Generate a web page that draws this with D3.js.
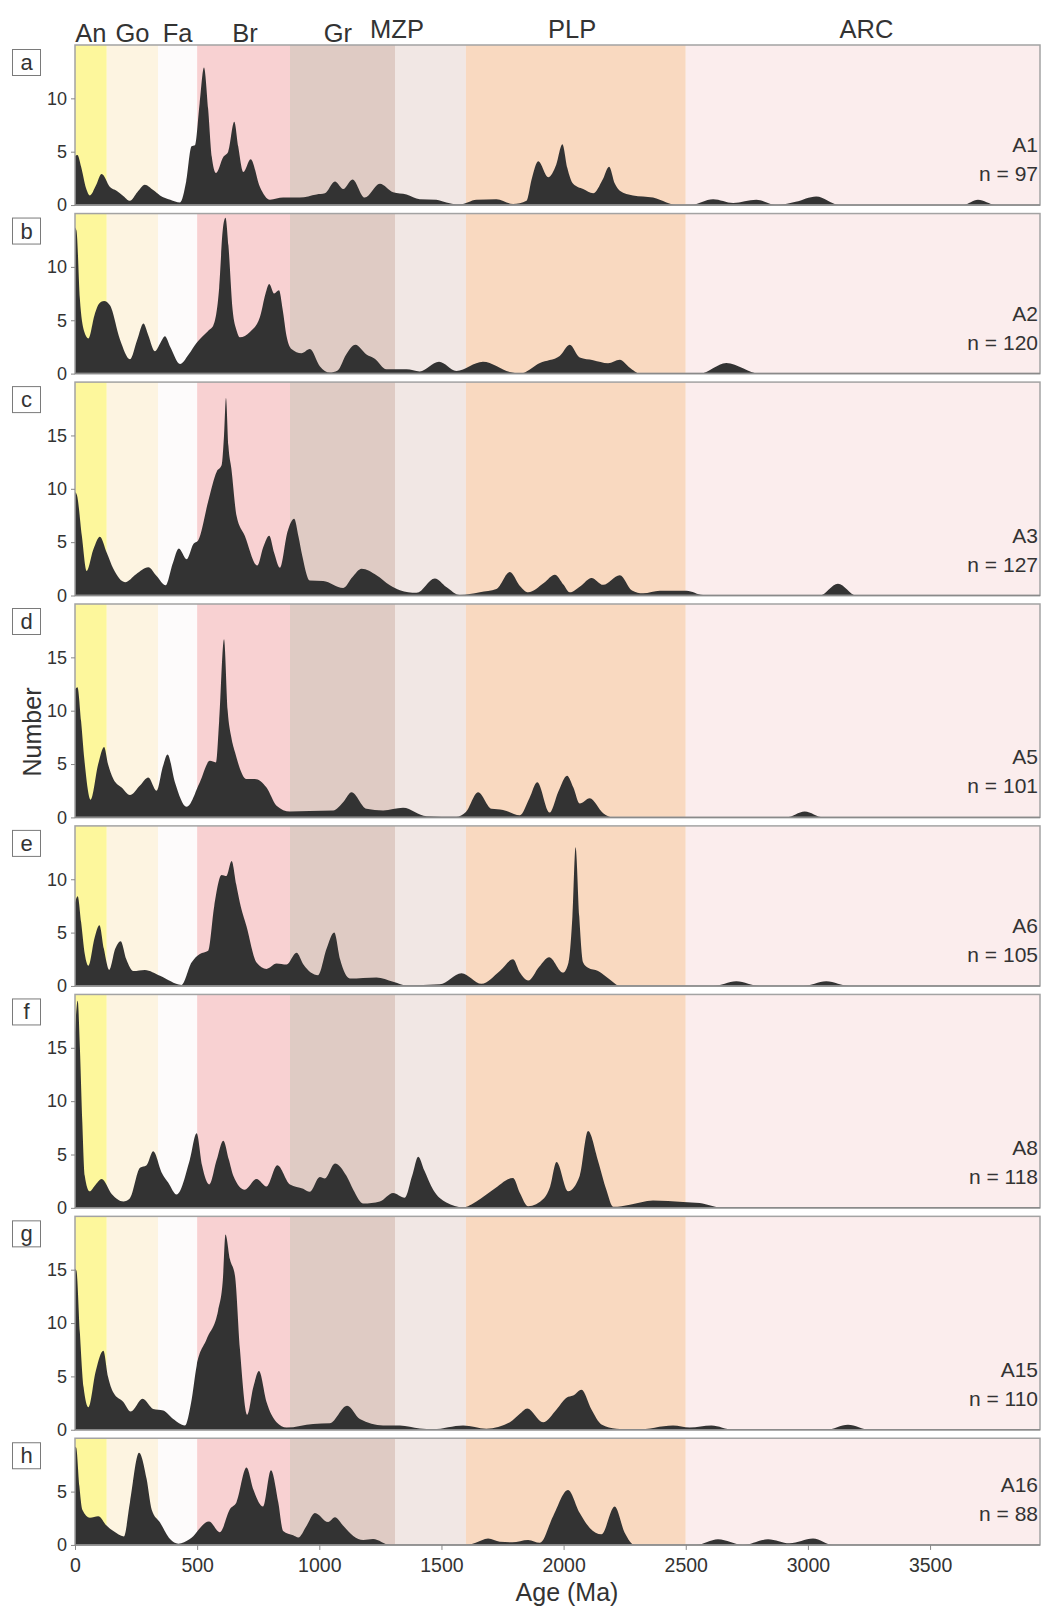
<!DOCTYPE html>
<html>
<head>
<meta charset="utf-8">
<script src="https://cdn.jsdelivr.net/npm/d3@7"></script>
<style>
  body { margin: 0; background: #fff; }
  svg { display: block; }
  text { font-family: "Liberation Sans", Arial, Helvetica, sans-serif; fill: #333; }
</style>
</head>
<body>
<svg id="chart" width="1041" height="1606"></svg>
<script>
// Detrital zircon age spectra: [age (Ma), number]
const A1 = [[0,4.6],[10,4.7],[25,3.6],[45,1.6],[61,0.9],[85,1.8],[109,2.9],[143,1.7],[170,1.35],[195,0.9],[225,0.4],[255,1.2],[286,1.9],[320,1.4],[348,0.9],[390,0.5],[430,0.25],[455,2.2],[477,5.5],[491,5.6],[510,9.5],[528,12.9],[545,9],[560,4.5],[577,3.0],[607,4.5],[627,5.0],[652,7.8],[668,5.5],[689,3.1],[719,4.3],[757,1.7],[798,0.5],[852,0.7],[920,0.7],[989,1.0],[1023,1.1],[1064,2.2],[1098,1.5],[1136,2.4],[1186,0.7],[1248,2.0],[1302,1.2],[1357,1.0],[1411,0.55],[1479,0.5],[1520,0.25],[1575,0.05],[1643,0.5],[1725,0.55],[1793,0.1],[1848,0.4],[1870,2.5],[1896,4.1],[1937,2.6],[1970,3.8],[1995,5.7],[2015,3.5],[2039,2.0],[2080,1.5],[2121,1.1],[2160,2.4],[2186,3.6],[2210,2.0],[2230,1.35],[2284,0.9],[2366,0.7],[2421,0.25],[2462,0],[2516,0],[2612,0.55],[2694,0.2],[2789,0.5],[2871,0],[2950,0.3],[3034,0.8],[3130,0],[3634,0],[3696,0.5],[3771,0],[3950,0]];
const A2 = [[0,13.7],[6,13.4],[20,7.0],[37,4.0],[55,3.3],[80,5.5],[100,6.6],[119,6.8],[143,6.4],[184,3.2],[225,1.35],[255,3.2],[280,4.7],[300,3.6],[327,2.1],[350,2.9],[368,3.5],[390,2.5],[430,0.9],[465,1.8],[498,2.9],[545,4.0],[566,4.5],[590,8.0],[605,13.5],[616,14.6],[628,12],[645,6],[662,4.0],[675,3.4],[716,3.9],[757,5.3],[780,7.5],[795,8.4],[815,7.5],[835,7.8],[850,6.0],[866,3.5],[886,2.3],[927,1.9],[961,2.3],[1002,0.7],[1043,0.1],[1075,0.3],[1110,1.8],[1148,2.7],[1193,1.8],[1227,1.4],[1275,0.4],[1357,0.4],[1411,0.2],[1490,1.1],[1561,0.25],[1670,1.1],[1780,0.15],[1821,0],[1903,1.0],[1984,1.65],[2025,2.7],[2066,1.5],[2121,1.25],[2182,0.97],[2230,1.3],[2271,0.55],[2312,0],[2557,0],[2666,1.0],[2803,0],[3950,0]];
const A3 = [[0,9.7],[8,9.4],[28,5.6],[48,2.3],[75,4.3],[102,5.5],[130,4.0],[157,2.5],[205,1.25],[250,2.0],[300,2.65],[335,1.8],[371,0.95],[400,3.0],[425,4.4],[457,3.4],[484,4.8],[505,5.2],[545,8.8],[580,11.6],[600,12.2],[610,15],[618,18.5],[628,14],[640,11.9],[661,7.5],[695,5.6],[746,2.8],[770,4.5],[795,5.6],[815,4.0],[839,2.6],[870,6.0],[897,7.2],[915,5.5],[930,3.75],[961,1.4],[1016,1.35],[1098,0.7],[1135,1.7],[1173,2.5],[1234,1.9],[1289,0.95],[1330,0.5],[1398,0.25],[1473,1.6],[1520,0.8],[1575,0.05],[1657,0.3],[1725,0.6],[1780,2.2],[1821,0.9],[1855,0.3],[1920,1.2],[1964,1.95],[2000,1.0],[2025,0.3],[2070,0.9],[2114,1.65],[2162,1.0],[2230,1.9],[2280,0.47],[2325,0.2],[2394,0.45],[2503,0.45],[2571,0.05],[3048,0],[3123,1.1],[3198,0],[3950,0]];
const A5 = [[0,12.0],[10,12.2],[25,9],[38,5.5],[64,1.65],[95,5.0],[119,6.6],[135,5.0],[157,3.6],[191,2.8],[225,2.1],[266,3.0],[300,3.75],[334,2.5],[360,4.8],[379,5.9],[409,3.3],[457,1.0],[511,3.3],[552,5.3],[577,5.15],[590,9],[610,16.7],[625,10],[640,7.5],[655,6.1],[702,3.6],[736,3.6],[784,2.8],[825,1.1],[880,0.55],[961,0.6],[1057,0.65],[1100,1.5],[1132,2.35],[1193,0.8],[1261,0.65],[1343,0.9],[1439,0.1],[1561,0.05],[1600,0.5],[1650,2.35],[1705,0.8],[1752,0.7],[1821,0.2],[1860,1.8],[1892,3.3],[1943,0.45],[1980,2.5],[2014,3.9],[2040,2.8],[2066,1.3],[2107,1.8],[2162,0.4],[2203,0],[2912,0],[2987,0.55],[3062,0],[3950,0]];
const A6 = [[0,7.8],[11,8.4],[25,6],[40,3.0],[55,1.9],[80,4.5],[100,5.7],[118,3.5],[140,1.5],[165,3.5],[187,4.2],[210,2.5],[239,1.4],[286,1.5],[348,0.95],[436,0.1],[477,2.2],[511,3.0],[545,3.3],[570,7.5],[600,10.4],[620,10.3],[641,11.7],[660,9.5],[675,7.8],[702,5.6],[743,2.2],[784,1.6],[825,2.1],[866,2.0],[907,3.1],[935,2.0],[995,1.0],[1030,3.5],[1061,5.0],[1085,2.5],[1125,0.7],[1234,0.8],[1302,0.4],[1357,0.05],[1493,0.15],[1582,1.2],[1664,0.2],[1739,1.4],[1793,2.5],[1821,1.25],[1855,0.5],[1900,1.8],[1941,2.7],[1998,1.25],[2020,2.2],[2036,6.5],[2049,13.0],[2064,6.5],[2080,2.2],[2100,1.7],[2141,1.4],[2189,0.6],[2230,0],[2612,0],[2707,0.45],[2803,0],[2980,0],[3075,0.45],[3171,0],[3950,0]];
const A8 = [[0,16.4],[11,19.4],[20,15],[30,8],[40,3.0],[59,1.55],[85,2.2],[109,2.7],[150,1.3],[198,0.6],[225,0.9],[266,3.75],[293,4.0],[320,5.3],[355,3.3],[382,2.35],[416,1.25],[470,4.5],[498,7.0],[520,4.0],[550,2.2],[580,4.5],[607,6.3],[630,4.5],[648,3.0],[695,1.7],[743,2.7],[784,2.0],[828,4.0],[880,2.2],[934,1.8],[961,1.5],[1002,2.9],[1023,2.75],[1064,4.15],[1111,3.0],[1139,1.7],[1180,0.4],[1248,0.6],[1302,1.4],[1350,0.95],[1380,3.0],[1405,4.8],[1430,3.5],[1466,1.7],[1520,0.5],[1589,0.05],[1643,0.6],[1711,1.7],[1793,2.8],[1821,1.4],[1855,0.15],[1920,0.9],[1945,2.0],[1971,4.3],[2019,1.55],[2066,3.0],[2100,7.2],[2141,4.4],[2175,1.7],[2203,0.1],[2271,0.3],[2366,0.7],[2489,0.55],[2557,0.45],[2653,0],[3950,0]];
const A15 = [[0,15.1],[6,14.9],[20,9.1],[35,4],[55,2.1],[85,5.5],[116,7.4],[135,5.0],[157,3.5],[198,2.6],[228,1.7],[277,2.9],[320,1.95],[361,1.8],[402,1.0],[450,0.4],[475,2.5],[498,6.0],[539,8.5],[586,11.2],[605,14],[616,18.3],[634,16.0],[655,14.4],[675,7.6],[705,1.4],[730,4.0],[753,5.5],[784,2.6],[825,0.7],[866,0.2],[975,0.55],[1043,0.6],[1114,2.25],[1166,1.0],[1261,0.4],[1330,0.4],[1411,0.12],[1466,0.05],[1589,0.4],[1684,0.1],[1780,0.7],[1821,1.5],[1851,2.0],[1916,0.7],[1971,1.9],[2012,3.0],[2039,3.2],[2073,3.75],[2114,1.9],[2155,0.5],[2216,0.1],[2298,0],[2448,0.4],[2516,0.2],[2605,0.4],[2694,0],[3075,0],[3164,0.47],[3253,0],[3950,0]];
const A16 = [[0,9.2],[5,9.1],[18,5.5],[30,3.3],[61,2.55],[95,2.7],[130,1.8],[157,1.3],[200,0.8],[225,4.0],[262,8.65],[293,6.2],[314,3.3],[348,2.1],[389,0.55],[423,0.12],[470,0.55],[548,2.2],[593,1.2],[634,3.35],[661,4.0],[702,7.25],[730,5.2],[770,3.6],[802,7.0],[832,4.0],[852,1.3],[893,0.9],[914,0.7],[948,1.8],[982,3.0],[1036,2.15],[1064,2.6],[1098,1.8],[1139,0.85],[1180,0.47],[1220,0.55],[1289,0],[1602,0],[1640,0.2],[1691,0.6],[1739,0.3],[1790,0.25],[1855,0.47],[1903,0.2],[1957,2.7],[2018,5.15],[2066,3.0],[2107,1.6],[2155,1.0],[2209,3.6],[2250,1.15],[2291,0],[2543,0],[2632,0.53],[2734,0],[2837,0.53],[2925,0.15],[3021,0.6],[3103,0],[3950,0]];

const panelLetters = ["a", "b", "c", "d", "e", "f", "g", "h"];
const sampleNames  = ["A1", "A2", "A3", "A5", "A6", "A8", "A15", "A16"];
const sampleCounts = [97, 120, 127, 101, 105, 118, 110, 88];
const yMax         = [15, 15, 20, 20, 15, 20, 20, 10];
const series       = [A1, A2, A3, A5, A6, A8, A15, A16];

// Orogenic / age provinces (Ma)
const bandNames  = ["An", "Go", "Fa", "Br", "Gr", "MZP", "PLP", "ARC"];
const bandStarts = [0, 130, 340, 500, 880, 1310, 1600, 2500];
const ageMax = 3950;
const xTicks = [0, 500, 1000, 1500, 2000, 2500, 3000, 3500];

// ---- styling / layout ----
const bandColors = ["#fdf79c", "#fdf4e1", "#fdfbfb", "#f8d1d2", "#dfcbc4", "#f1e7e4", "#f9d9c0", "#fbeded"];
const headerAge  = [65, 235, 420, 696, 1076, 1318, 2035, 3240];
const headerY    = [41.5, 41.5, 41.5, 41.5, 42, 37.5, 38, 37.5];

const plotLeft = 75, plotRight = 1040, firstTop = 45, unit = 10.67, gap = 8.5;
const svg = d3.select("#chart");

const x = d3.scaleLinear().domain([0, ageMax]).range([plotLeft, plotRight]);

// header labels
svg.append("g").selectAll("text").data(bandNames).join("text")
  .attr("x", (d, i) => x(headerAge[i]))
  .attr("y", (d, i) => headerY[i])
  .attr("text-anchor", "middle")
  .style("font-size", "25.5px")
  .text(d => d);

const bandEnds = bandStarts.slice(1).concat([ageMax]);

let panelTop = firstTop;
series.forEach((data, i) => {
  const h = yMax[i] * unit;
  const base = panelTop + h;
  const y = d3.scaleLinear().domain([0, yMax[i]]).range([base, panelTop]);
  const g = svg.append("g");

  const clipId = "clip" + i;
  svg.append("clipPath").attr("id", clipId)
    .append("rect").attr("x", plotLeft).attr("y", panelTop).attr("width", plotRight - plotLeft).attr("height", h);

  // age province bands
  g.append("g").selectAll("rect").data(bandStarts).join("rect")
    .attr("x", (d) => x(d))
    .attr("width", (d, j) => x(bandEnds[j]) - x(d))
    .attr("y", panelTop).attr("height", h)
    .attr("fill", (d, j) => bandColors[j]);

  // probability density area
  const area = d3.area()
    .x(d => x(d[0]))
    .y0(base)
    .y1(d => y(d[1]))
    .curve(d3.curveMonotoneX);
  g.append("path").datum(data)
    .attr("clip-path", `url(#${clipId})`)
    .attr("d", area)
    .attr("fill", "#333333");

  // frame
  g.append("rect")
    .attr("x", plotLeft).attr("y", panelTop).attr("width", plotRight - plotLeft).attr("height", h)
    .attr("fill", "none").attr("stroke", "#a3a3a3").attr("stroke-width", 1.5);
  g.append("line")
    .attr("x1", plotLeft).attr("x2", plotRight).attr("y1", base).attr("y2", base)
    .attr("stroke", "#8a8a8a").attr("stroke-width", 1.5);

  // y axis
  const yAxis = d3.axisLeft(y).tickValues(d3.range(0, yMax[i], 5)).tickSize(4).tickPadding(4);
  const ya = g.append("g").attr("transform", `translate(${plotLeft},0)`).call(yAxis);
  ya.select(".domain").remove();
  ya.selectAll(".tick line").attr("stroke", "#888");
  ya.selectAll(".tick text").style("font-size", "18px").attr("fill", "#333")
    .style("font-family", '"Liberation Sans", Arial, sans-serif');

  // panel letter
  g.append("rect").attr("x", 12.5).attr("y", panelTop + 4.5).attr("width", 28).attr("height", 26)
    .attr("fill", "#fff").attr("stroke", "#7a7a7a").attr("stroke-width", 1);
  g.append("text").attr("x", 26.5).attr("y", panelTop + 17.5)
    .attr("text-anchor", "middle").attr("dominant-baseline", "central")
    .style("font-size", "22px").text(panelLetters[i]);

  // sample name and count
  g.append("text").attr("x", 1038).attr("y", base - 53).attr("text-anchor", "end")
    .style("font-size", "21px").text(sampleNames[i]);
  g.append("text").attr("x", 1038).attr("y", base - 24).attr("text-anchor", "end")
    .style("font-size", "21px").text("n = " + sampleCounts[i]);

  if (i === series.length - 1) {
    const xAxis = d3.axisBottom(x).tickValues(xTicks).tickSize(5).tickPadding(8).tickFormat(d3.format("d"));
    const xa = g.append("g").attr("transform", `translate(0,${base})`).call(xAxis);
    xa.select(".domain").remove();
    xa.selectAll(".tick line").attr("stroke", "#888");
    xa.selectAll(".tick text").style("font-size", "19.5px").attr("fill", "#333")
      .style("font-family", '"Liberation Sans", Arial, sans-serif');
  }

  panelTop = base + gap;
});

// axis titles
svg.append("text").attr("transform", "translate(40.5,732) rotate(-90)")
  .attr("text-anchor", "middle").style("font-size", "25px").text("Number");
svg.append("text").attr("x", 567).attr("y", 1601)
  .attr("text-anchor", "middle").style("font-size", "25px").text("Age (Ma)");
</script>
</body>
</html>
